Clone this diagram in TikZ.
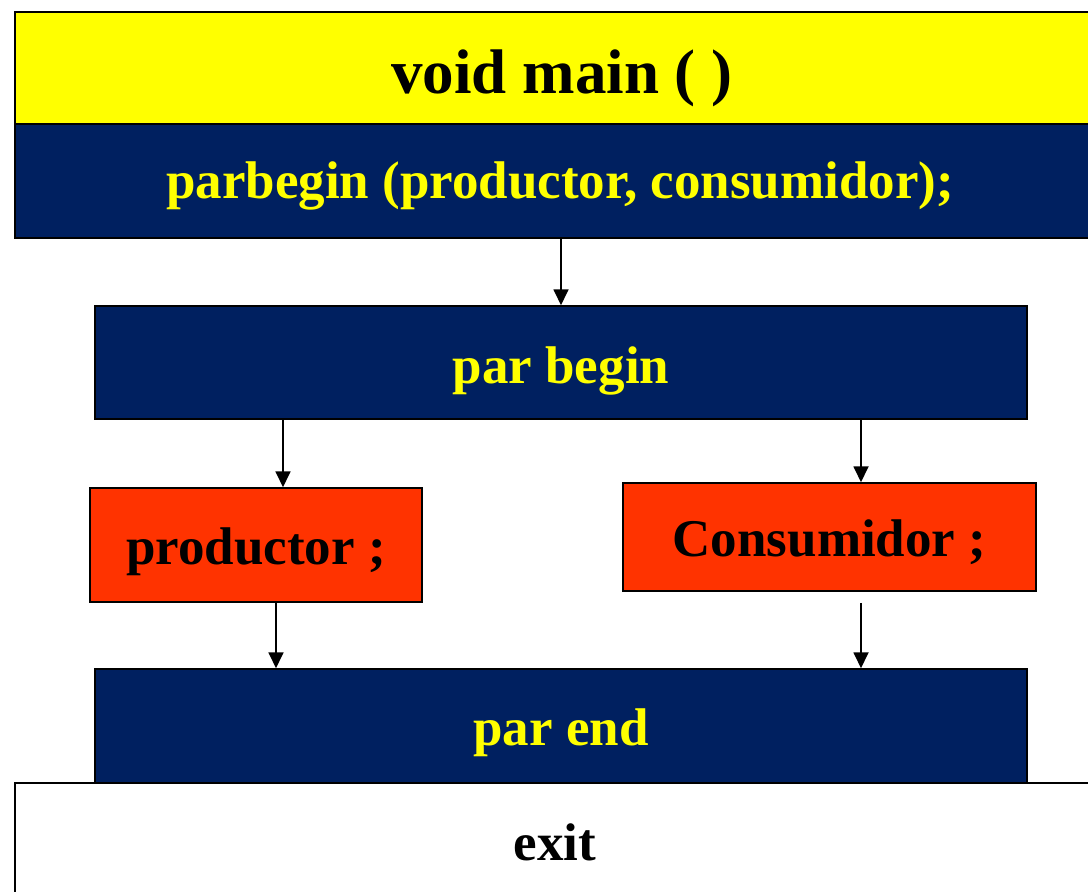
\documentclass[tikz,border=0pt]{standalone}
\usepackage{fontspec}
\setmainfont{Liberation Serif}
\usetikzlibrary{arrows.meta}
\definecolor{navy}{HTML}{002060}
\definecolor{yel}{HTML}{FFFF00}
\definecolor{hot}{HTML}{FF3300}
\begin{document}
\begin{tikzpicture}[x=1pt,y=-1pt,
  box/.style={draw=black, line width=1.5pt, inner sep=0pt, text depth=0pt, font=\bfseries\fontsize{53}{60}\selectfont},
  navybox/.style={box, fill=navy, text=yel},
  redbox/.style={box, fill=hot, text=black},
  conn/.style={-{Triangle[width=15pt,length=16pt]}, line width=1.8pt}]
\useasboundingbox (0,0) rectangle (1088,892);
\clip (0,0) rectangle (1088,892);
\node[box, fill=yel, minimum width=1094, minimum height=113, text height=49pt, font=\bfseries\fontsize{63}{70}\selectfont] (main) at (562,68.5) {void main ( )};
\node[navybox, minimum width=1090, minimum height=114, text height=34pt] (parbegin) at (560,181) {parbegin (productor, consumidor);};
\node[navybox, minimum width=932, minimum height=113, text height=41pt] (pbegin) at (561,362.5) {par begin};
\node[redbox, minimum width=332, minimum height=114, text height=38pt] (prod) at (256,545) {productor ;};
\node[redbox, minimum width=413, minimum height=108, text height=38pt] (cons) at (829.5,537) {Consumidor ;};
\node[navybox, minimum width=932, minimum height=114, text height=38pt] (pend) at (561,726) {par end};
\node[box, fill=white, text=black, minimum width=1080, minimum height=124, text height=30pt] (exit) at (555,845) {exit};
\draw[conn] (pbegin.north |- parbegin.south) -- (pbegin.north);
\draw[conn] ([xshift=27pt]prod.north |- pbegin.south) -- ([xshift=27pt]prod.north);
\draw[conn] ([xshift=31.5pt]cons.north |- pbegin.south) -- ([xshift=31.5pt]cons.north);
\draw[conn] ([xshift=20pt]prod.south) -- ([xshift=20pt]prod.south |- pend.north);
\coordinate (cs) at ([xshift=31.5pt,yshift=-11pt]cons.south);
\draw[conn] (cs) -- (cs |- pend.north);
\end{tikzpicture}
\end{document}
